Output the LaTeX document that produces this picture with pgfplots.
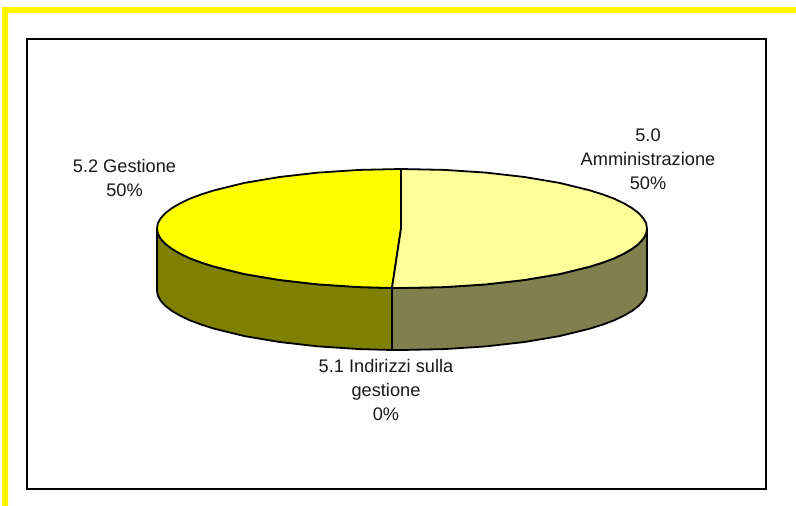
\documentclass[border=0pt]{standalone}
\usepackage{fontspec}
\setmainfont{Liberation Sans}
\usepackage{pgfplots}
\pgfplotsset{compat=1.18}
\definecolor{bordery}{HTML}{FFF600}
\definecolor{topleft}{HTML}{FFFF00}
\definecolor{topright}{HTML}{FFFF99}
\definecolor{sideleft}{HTML}{808000}
\definecolor{sideright}{HTML}{80804F}
\tikzset{lab/.style={font=\fontsize{18.2}{24}\selectfont, align=center, text=black!90}}
\begin{document}
\begin{tikzpicture}[x=1pt,y=1pt]
\begin{axis}[
    scale only axis,
    width=796pt, height=506pt,
    xmin=0, xmax=796, ymin=0, ymax=506,
    y dir=reverse,
    hide axis,
    clip=false,
]
% page extent
\addplot[draw=none] coordinates {(0,0) (796,506)};
% yellow corner
\addplot[fill=bordery, draw=none] coordinates {
    (2,506) (2,7) (796,7) (796,13) (8,13) (8,506)} --cycle;
% chart frame
\addplot[draw=black, line width=2pt] coordinates {
    (27,39) (766,39) (766,489) (27,489)} --cycle;
% side, left half
\addplot[fill=sideleft, draw=black, line width=1.8pt] coordinates {
    (157,228.5) (157.9,233.7) (160.7,238.8) (165.4,243.9) (171.8,248.8) (180,253.6)
    (189.8,258.3) (201.3,262.6) (214.3,266.7)
    (244.5,274.1) (279.5,280) (318.2,284.4) (359.5,287.1) (392,288)
    (392,350) (359.5,349.1) (318.2,346.4) (279.5,342) (244.5,336.1)
    (214.3,328.7) (201.3,324.6) (189.8,320.3) (180,315.6) (171.8,310.8)
    (165.4,305.9) (160.7,300.8) (157.9,295.7) (157,290.5)} --cycle;
% side, right half
\addplot[fill=sideright, draw=black, line width=1.8pt] coordinates {
    (392,288) (402,288) (444.5,287.1) (485.8,284.4) (524.5,280) (559.5,274.1)
    (589.7,266.7) (602.7,262.6) (614.2,258.3) (624,253.6) (632.2,248.8)
    (638.6,243.9) (643.3,238.8) (646.1,233.7) (647,228.5)
    (647,290.5) (646.1,295.7) (643.3,300.8) (638.6,305.9) (632.2,310.8) (624,315.6)
    (614.2,320.3) (602.7,324.6) (589.7,328.7)
    (559.5,336.1) (524.5,342) (485.8,346.4) (444.5,349.1) (402,350) (392,350)} --cycle;
% top, 5.2 Gestione
\addplot[fill=topleft, draw=black, line width=1.8pt] coordinates {
    (401,228.5) (392,288) (359.5,287.1) (318.2,284.4) (279.5,280) (244.5,274.1)
    (214.3,266.7) (201.3,262.6) (189.8,258.3) (180,253.6) (171.8,248.8) (165.4,243.9)
    (160.7,238.8) (157.9,233.7) (157,228.5)
    (157.9,223.3) (160.7,218.2) (165.4,213.1) (171.8,208.2) (180,203.4) (189.8,198.7)
    (201.3,194.4) (214.3,190.3) (244.5,182.9)
    (279.5,177) (318.2,172.6) (359.5,169.9) (401,169)} --cycle;
% top, 5.0 Amministrazione
\addplot[fill=topright, draw=black, line width=1.8pt] coordinates {
    (401,228.5) (401,169) (444.5,169.9) (485.8,172.6) (524.5,177) (559.5,182.9)
    (589.7,190.3) (602.7,194.4) (614.2,198.7) (624,203.4) (632.2,208.2) (638.6,213.1)
    (643.3,218.2) (646.1,223.3) (647,228.5)
    (646.1,233.7) (643.3,238.8) (638.6,243.9) (632.2,248.8) (624,253.6) (614.2,258.3)
    (602.7,262.6) (589.7,266.7) (559.5,274.1)
    (524.5,280) (485.8,284.4) (444.5,287.1) (402,288) (392,288)} --cycle;
% labels
\node[lab] at (axis cs:648,159) {5.0\\Amministrazione\\50\%};
\node[lab] at (axis cs:124.5,178) {5.2 Gestione\\50\%};
\node[lab] at (axis cs:386,389.5) {5.1 Indirizzi sulla\\gestione\\0\%};
\end{axis}
\end{tikzpicture}
\end{document}
